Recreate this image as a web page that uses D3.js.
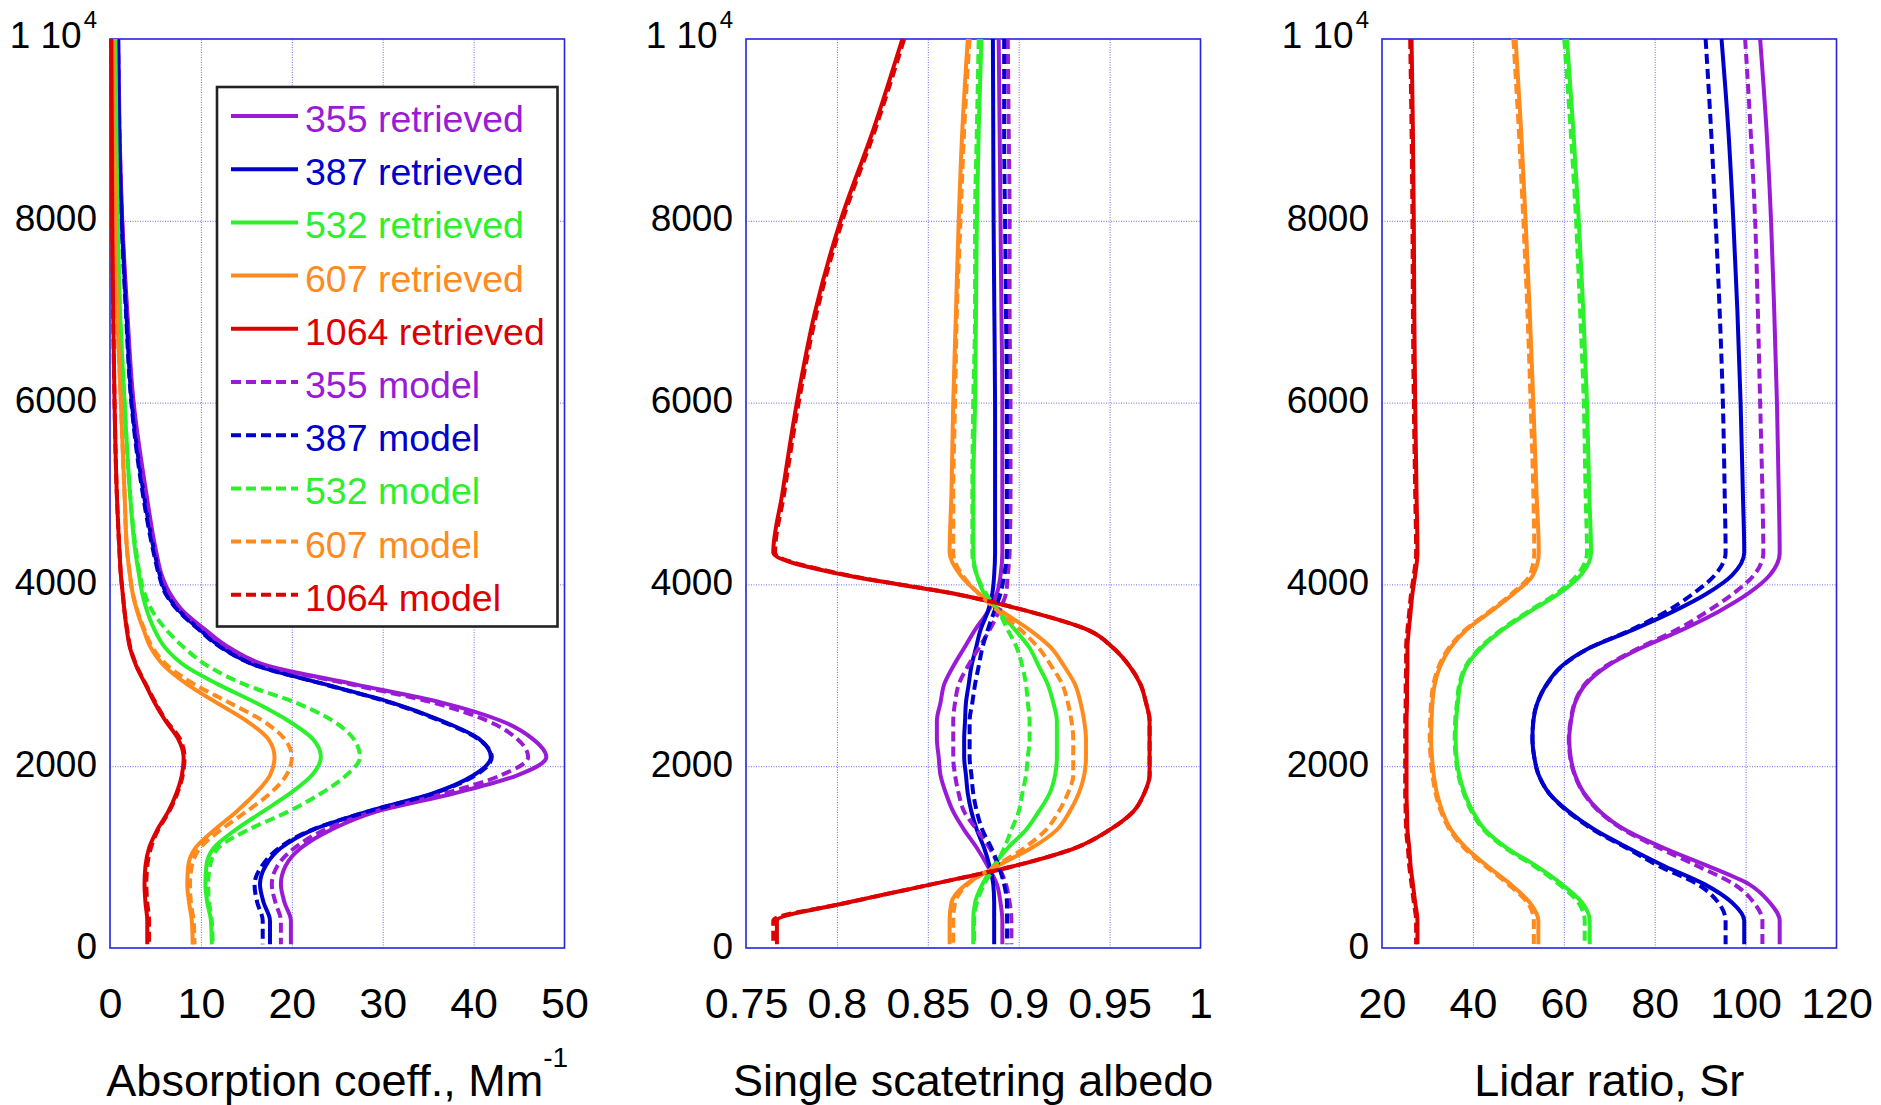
<!DOCTYPE html>
<html>
<head>
<meta charset="utf-8">
<script src="https://cdn.jsdelivr.net/npm/d3@7"></script>
<style>
  html, body { margin: 0; padding: 0; background: #ffffff; }
  svg { display: block; }
  text { font-family: "Liberation Sans", Arial, sans-serif; }
</style>
</head>
<body>
<svg id="chart" width="1881" height="1105"></svg>
<script>
// Altitude grid (m) shared by every profile
const altitude = [40, 300, 500, 700, 900, 1100, 1300, 1500, 1700, 1900, 2100, 2300, 2500, 2700, 2900, 3100, 3300, 3500, 3700, 3900, 4100, 4350, 5000, 6000, 7000, 8000, 9000, 10000];

const wavelengths = ["355", "387", "532", "607", "1064"];
const seriesColors = ["#9a1bd6", "#0000cc", "#2cf02c", "#ff8a1e", "#dd0000"];

// Absorption coefficient, Mm^-1
const abs355ret  = [19.9, 19.9, 19.2, 18.8, 19.3, 21.0, 24.3, 29.3, 37.8, 44.8, 48.0, 46.5, 43.0, 36.5, 27.0, 17.5, 13.2, 10.5, 8.1, 6.6, 5.7, 5.1, 4.0, 2.6, 1.9, 1.35, 1.05, 0.9];
const abs387ret  = [17.6, 17.6, 16.9, 16.5, 17.1, 18.8, 22.3, 28.3, 35.5, 40.0, 41.9, 40.6, 36.5, 31.0, 23.7, 16.3, 12.4, 9.9, 7.7, 6.2, 5.5, 4.9, 3.7, 2.4, 1.8, 1.3, 1.0, 0.9];
const abs532ret  = [11.2, 11.1, 10.7, 10.5, 10.6, 11.4, 13.8, 16.8, 19.8, 22.2, 23.2, 22.3, 19.6, 16.0, 11.9, 8.3, 6.1, 4.9, 4.1, 3.55, 3.2, 2.8, 2.2, 1.6, 1.1, 0.85, 0.7, 0.6];
const abs607ret  = [9.1, 9.0, 8.7, 8.5, 8.6, 9.4, 11.5, 13.9, 16.0, 17.6, 18.1, 17.4, 15.0, 11.7, 8.5, 6.0, 4.5, 3.7, 3.0, 2.5, 2.2, 1.9, 1.6, 1.2, 0.8, 0.6, 0.45, 0.35];
const abs1064ret = [4.1, 4.1, 3.9, 3.8, 3.9, 4.3, 5.2, 6.4, 7.3, 7.9, 8.1, 7.5, 6.1, 4.9, 3.9, 2.9, 2.2, 1.85, 1.6, 1.4, 1.2, 1.05, 0.75, 0.5, 0.35, 0.25, 0.2, 0.15];
const abs355mod  = [18.8, 18.8, 18.2, 17.8, 18.4, 20.3, 23.6, 29.0, 36.8, 43.0, 46.0, 44.8, 41.5, 35.5, 26.5, 17.3, 13.0, 10.4, 8.0, 6.5, 5.6, 5.0, 3.9, 2.55, 1.85, 1.33, 1.03, 0.88];
const abs387mod  = [16.8, 16.8, 16.2, 15.9, 16.7, 18.6, 22.2, 28.3, 35.6, 40.2, 42.0, 40.5, 36.3, 30.8, 23.6, 16.3, 12.3, 9.8, 7.6, 6.1, 5.4, 4.8, 3.6, 2.35, 1.75, 1.28, 1.0, 0.88];
const abs532mod  = [11.3, 11.2, 10.9, 10.8, 11.0, 11.9, 15.2, 19.6, 23.2, 26.0, 27.5, 26.8, 24.5, 20.4, 14.8, 10.8, 8.2, 6.2, 4.7, 3.8, 3.3, 2.9, 2.2, 1.6, 1.1, 0.85, 0.7, 0.6];
const abs607mod  = [9.3, 9.2, 8.9, 8.8, 9.0, 9.9, 12.2, 15.0, 17.6, 19.4, 20.0, 19.2, 16.8, 13.1, 9.3, 6.4, 4.7, 3.8, 3.05, 2.5, 2.2, 1.9, 1.6, 1.2, 0.8, 0.6, 0.45, 0.35];
const abs1064mod = [4.3, 4.3, 4.1, 4.0, 4.1, 4.5, 5.3, 6.5, 7.4, 8.0, 8.2, 7.7, 6.2, 5.0, 3.95, 2.95, 2.25, 1.9, 1.6, 1.4, 1.2, 1.05, 0.75, 0.5, 0.35, 0.25, 0.2, 0.15];

// Single scattering albedo
const ssa355ret  = [0.891, 0.891, 0.890, 0.888, 0.883, 0.877, 0.870, 0.864, 0.860, 0.857, 0.856, 0.855, 0.855, 0.857, 0.859, 0.864, 0.870, 0.876, 0.883, 0.888, 0.890, 0.891, 0.891, 0.891, 0.8905, 0.890, 0.8895, 0.889];
const ssa387ret  = [0.8865, 0.8865, 0.8865, 0.886, 0.884, 0.881, 0.877, 0.874, 0.872, 0.871, 0.870, 0.870, 0.8705, 0.871, 0.8725, 0.874, 0.8765, 0.879, 0.883, 0.8855, 0.8865, 0.887, 0.887, 0.887, 0.8866, 0.8862, 0.886, 0.8858];
const ssa532ret  = [0.875, 0.875, 0.876, 0.880, 0.886, 0.894, 0.904, 0.911, 0.917, 0.920, 0.921, 0.921, 0.921, 0.919, 0.916, 0.911, 0.906, 0.898, 0.889, 0.881, 0.877, 0.875, 0.875, 0.876, 0.8765, 0.877, 0.878, 0.8795];
const ssa607ret  = [0.862, 0.862, 0.863, 0.871, 0.888, 0.907, 0.921, 0.928, 0.933, 0.936, 0.937, 0.937, 0.936, 0.934, 0.931, 0.925, 0.918, 0.906, 0.891, 0.878, 0.868, 0.862, 0.863, 0.864, 0.8655, 0.867, 0.869, 0.872];
const ssa1064ret = [0.767, 0.767, 0.806, 0.852, 0.897, 0.931, 0.950, 0.963, 0.969, 0.972, 0.972, 0.972, 0.972, 0.970, 0.967, 0.961, 0.952, 0.938, 0.906, 0.864, 0.805, 0.765, 0.770, 0.778, 0.788, 0.802, 0.820, 0.836];
const ssa355mod  = [0.896, 0.896, 0.895, 0.893, 0.889, 0.884, 0.877, 0.870, 0.867, 0.865, 0.864, 0.864, 0.864, 0.865, 0.867, 0.872, 0.878, 0.884, 0.889, 0.893, 0.894, 0.895, 0.8955, 0.8955, 0.895, 0.895, 0.8945, 0.894];
const ssa387mod  = [0.8936, 0.8936, 0.8935, 0.892, 0.889, 0.885, 0.880, 0.877, 0.875, 0.874, 0.873, 0.873, 0.873, 0.8745, 0.876, 0.878, 0.880, 0.883, 0.8865, 0.890, 0.892, 0.8935, 0.8935, 0.8935, 0.893, 0.8925, 0.892, 0.892];
const ssa532mod  = [0.8755, 0.8755, 0.877, 0.881, 0.887, 0.892, 0.896, 0.900, 0.902, 0.904, 0.905, 0.906, 0.906, 0.905, 0.904, 0.902, 0.899, 0.894, 0.889, 0.882, 0.877, 0.8745, 0.8745, 0.875, 0.876, 0.876, 0.877, 0.878];
const ssa607mod  = [0.864, 0.864, 0.865, 0.872, 0.887, 0.903, 0.915, 0.922, 0.927, 0.930, 0.930, 0.930, 0.929, 0.927, 0.924, 0.918, 0.911, 0.901, 0.889, 0.878, 0.869, 0.864, 0.864, 0.865, 0.866, 0.868, 0.870, 0.873];
const ssa1064mod = [0.765, 0.765, 0.806, 0.852, 0.897, 0.931, 0.950, 0.963, 0.969, 0.972, 0.972, 0.972, 0.972, 0.970, 0.967, 0.961, 0.952, 0.938, 0.906, 0.864, 0.806, 0.766, 0.771, 0.779, 0.789, 0.803, 0.821, 0.837];

// Lidar ratio, sr
const lr355ret  = [107.5, 107.5, 105.3, 100.8, 91.8, 82.0, 73.5, 68.0, 64.5, 62.5, 61.5, 61.2, 61.6, 62.5, 64.8, 69.5, 77.0, 86.0, 94.0, 100.6, 105.3, 107.5, 107.3, 106.9, 106.3, 105.6, 104.6, 103.2];
const lr387ret  = [99.7, 99.7, 97.0, 91.0, 82.2, 74.2, 66.8, 61.1, 56.8, 54.5, 53.5, 53.1, 53.3, 54.2, 56.2, 59.5, 65.6, 75.2, 84.0, 91.5, 97.0, 99.7, 99.4, 98.9, 98.2, 97.3, 96.2, 94.7];
const lr532ret  = [65.7, 65.7, 64.0, 59.6, 54.0, 47.5, 42.7, 40.0, 38.2, 37.0, 36.4, 36.2, 36.3, 36.7, 37.2, 38.6, 41.8, 46.5, 52.5, 59.0, 63.7, 66.0, 65.6, 65.1, 64.3, 63.3, 62.1, 60.7];
const lr607ret  = [54.4, 54.4, 52.5, 48.3, 43.2, 38.5, 35.2, 33.3, 32.1, 31.4, 31.0, 30.8, 30.9, 31.1, 31.6, 32.8, 35.0, 38.6, 43.9, 49.0, 53.2, 54.5, 54.0, 53.3, 52.5, 51.6, 50.6, 49.4];
const lr1064ret = [27.8, 27.8, 27.3, 26.8, 26.3, 26.0, 25.6, 25.5, 25.4, 25.4, 25.4, 25.4, 25.4, 25.5, 25.5, 25.6, 25.6, 25.9, 26.3, 26.7, 27.3, 27.8, 27.6, 27.3, 27.1, 27.0, 26.8, 26.5];
const lr355mod  = [103.7, 103.7, 101.8, 97.5, 89.5, 81.0, 73.2, 67.8, 64.4, 62.4, 61.4, 61.1, 61.5, 62.4, 64.6, 69.2, 76.5, 84.8, 91.5, 97.3, 101.8, 103.9, 103.7, 103.2, 102.7, 102.1, 101.1, 99.9];
const lr387mod  = [95.6, 95.6, 94.0, 89.5, 81.0, 73.8, 66.5, 60.9, 56.8, 54.5, 53.5, 53.1, 53.3, 54.2, 56.3, 59.6, 65.6, 74.8, 82.5, 88.5, 93.2, 95.6, 95.4, 95.0, 94.3, 93.4, 92.4, 91.2];
const lr532mod  = [64.6, 64.6, 63.2, 59.0, 53.5, 47.1, 42.4, 39.7, 38.0, 36.8, 36.2, 36.0, 36.1, 36.5, 37.0, 38.4, 41.5, 46.2, 52.1, 58.4, 62.9, 65.1, 64.8, 64.4, 63.6, 62.7, 61.5, 60.1];
const lr607mod  = [53.4, 53.4, 52.0, 47.8, 42.8, 38.1, 34.9, 33.0, 31.8, 31.1, 30.7, 30.5, 30.6, 30.8, 31.3, 32.5, 34.7, 38.3, 43.6, 48.6, 52.5, 53.5, 53.3, 52.7, 52.0, 51.1, 50.1, 48.9];
const lr1064mod = [27.5, 27.5, 27.0, 26.5, 26.0, 25.7, 25.3, 25.2, 25.1, 25.1, 25.1, 25.1, 25.1, 25.2, 25.2, 25.3, 25.3, 25.6, 26.0, 26.4, 27.0, 27.5, 27.3, 27.0, 26.8, 26.7, 26.5, 26.2];

// Axis ticks
const altitudeTicks = [0, 2000, 4000, 6000, 8000, 10000];
const absTicks = [0, 10, 20, 30, 40, 50];
const ssaTicks = [0.75, 0.8, 0.85, 0.9, 0.95, 1];
const lrTicks = [20, 40, 60, 80, 100, 120];
const legendLabels = ["355 retrieved", "387 retrieved", "532 retrieved", "607 retrieved", "1064 retrieved",
                      "355 model", "387 model", "532 model", "607 model", "1064 model"];

// Panel definitions built from the arrays above
const panels = [
  { left: 110, domain: [0, 50], ticks: absTicks, fmt: d => String(d),
    title: "Absorption coeff., Mm", sup: "-1",
    retrieved: [abs355ret, abs387ret, abs532ret, abs607ret, abs1064ret],
    model: [abs355mod, abs387mod, abs532mod, abs607mod, abs1064mod] },
  { left: 746, domain: [0.75, 1], ticks: ssaTicks, fmt: d => String(d),
    title: "Single scatetring albedo", sup: null,
    retrieved: [ssa355ret, ssa387ret, ssa532ret, ssa607ret, ssa1064ret],
    model: [ssa355mod, ssa387mod, ssa532mod, ssa607mod, ssa1064mod] },
  { left: 1382, domain: [20, 120], ticks: lrTicks, fmt: d => String(d),
    title: "Lidar ratio, Sr", sup: null,
    retrieved: [lr355ret, lr387ret, lr532ret, lr607ret, lr1064ret],
    model: [lr355mod, lr387mod, lr532mod, lr607mod, lr1064mod] }
];

const plotTop = 39, plotBottom = 948, plotWidth = 454.5;
const frameColor = "#2424e0";
const gridColor = "#6a6af2";
const lineWidth = 4;
const dashPattern = "10,5";

const svg = d3.select("#chart");
svg.append("rect").attr("width", 1881).attr("height", 1105).attr("fill", "#ffffff");

const y = d3.scaleLinear().domain([0, 10000]).range([plotBottom, plotTop]);

panels.forEach(p => {
  const x = d3.scaleLinear().domain(p.domain).range([p.left, p.left + plotWidth]);
  const g = svg.append("g");

  // dotted grid
  const inner = p.ticks.slice(1, -1);
  g.append("g")
    .attr("transform", `translate(0,${plotBottom})`)
    .call(d3.axisBottom(x).tickValues(inner).tickSize(-(plotBottom - plotTop)).tickFormat(""))
    .call(a => a.select(".domain").remove())
    .call(a => a.selectAll(".tick line").attr("stroke", gridColor).attr("stroke-width", 1).attr("stroke-dasharray", "1,1.5"));
  g.append("g")
    .attr("transform", `translate(${p.left},0)`)
    .call(d3.axisLeft(y).tickValues([2000, 4000, 6000, 8000]).tickSize(-plotWidth).tickFormat(""))
    .call(a => a.select(".domain").remove())
    .call(a => a.selectAll(".tick line").attr("stroke", gridColor).attr("stroke-width", 1).attr("stroke-dasharray", "1,1.5"));

  // frame
  g.append("rect")
    .attr("x", p.left).attr("y", plotTop)
    .attr("width", plotWidth).attr("height", plotBottom - plotTop)
    .attr("fill", "none").attr("stroke", frameColor).attr("stroke-width", 1.6);

  // x tick labels
  g.append("g")
    .attr("transform", `translate(0,${plotBottom})`)
    .call(d3.axisBottom(x).tickValues(p.ticks).tickSize(0).tickPadding(39).tickFormat(p.fmt))
    .call(a => a.select(".domain").remove())
    .call(a => a.selectAll("text").attr("font-size", 43).attr("fill", "#000")
      .attr("font-family", '"Liberation Sans", Arial, sans-serif'));

  // y tick labels
  const yAxis = g.append("g")
    .attr("transform", `translate(${p.left},0)`)
    .call(d3.axisLeft(y).tickValues(altitudeTicks).tickSize(0).tickPadding(13).tickFormat(d => d === 10000 ? "1 10" : String(d)))
    .call(a => a.select(".domain").remove());
  yAxis.selectAll("text").attr("font-size", 37).attr("fill", "#000").attr("dy", "0.27em")
    .attr("font-family", '"Liberation Sans", Arial, sans-serif');
  yAxis.selectAll(".tick").filter(d => d === 10000).select("text")
    .attr("dy", "0.22em")
    .append("tspan").attr("font-size", 24).attr("dy", -20).attr("dx", 2).text("4");

  // x title
  const t = g.append("text")
    .attr("x", p.left + plotWidth / 2).attr("y", 1096)
    .attr("text-anchor", "middle").attr("font-size", 45).attr("fill", "#000")
    .text(p.title);
  if (p.sup) t.append("tspan").attr("font-size", 28).attr("dy", -29).text(p.sup);

  // profiles: retrieved solid first, model dashed on top
  const line = d3.line()
    .x(d => x(d[0]))
    .y(d => y(d[1]))
    .curve(d3.curveMonotoneY);
  const toPoints = vals => vals.map((v, i) => [v, altitude[i]]).reverse();

  p.retrieved.forEach((vals, i) => {
    g.append("path").attr("d", line(toPoints(vals)))
      .attr("fill", "none").attr("stroke", seriesColors[i]).attr("stroke-width", lineWidth)
      .attr("stroke-linejoin", "round");
  });
  p.model.forEach((vals, i) => {
    g.append("path").attr("d", line(toPoints(vals)))
      .attr("fill", "none").attr("stroke", seriesColors[i]).attr("stroke-width", lineWidth)
      .attr("stroke-dasharray", dashPattern);
  });
});

// legend inside the absorption panel
const legend = svg.append("g");
legend.append("rect")
  .attr("x", 217).attr("y", 87).attr("width", 340.5).attr("height", 539.5)
  .attr("fill", "#ffffff").attr("stroke", "#222").attr("stroke-width", 2.6);
legendLabels.forEach((label, i) => {
  const cy = 116 + i * 53.2;
  const c = seriesColors[i % 5];
  legend.append("line")
    .attr("x1", 231).attr("x2", 298).attr("y1", cy).attr("y2", cy)
    .attr("stroke", c).attr("stroke-width", lineWidth)
    .attr("stroke-dasharray", i >= 5 ? dashPattern : null);
  legend.append("text")
    .attr("x", 305).attr("y", cy + 16)
    .attr("font-size", 37.5).attr("fill", c)
    .text(label);
});
</script>
</body>
</html>
